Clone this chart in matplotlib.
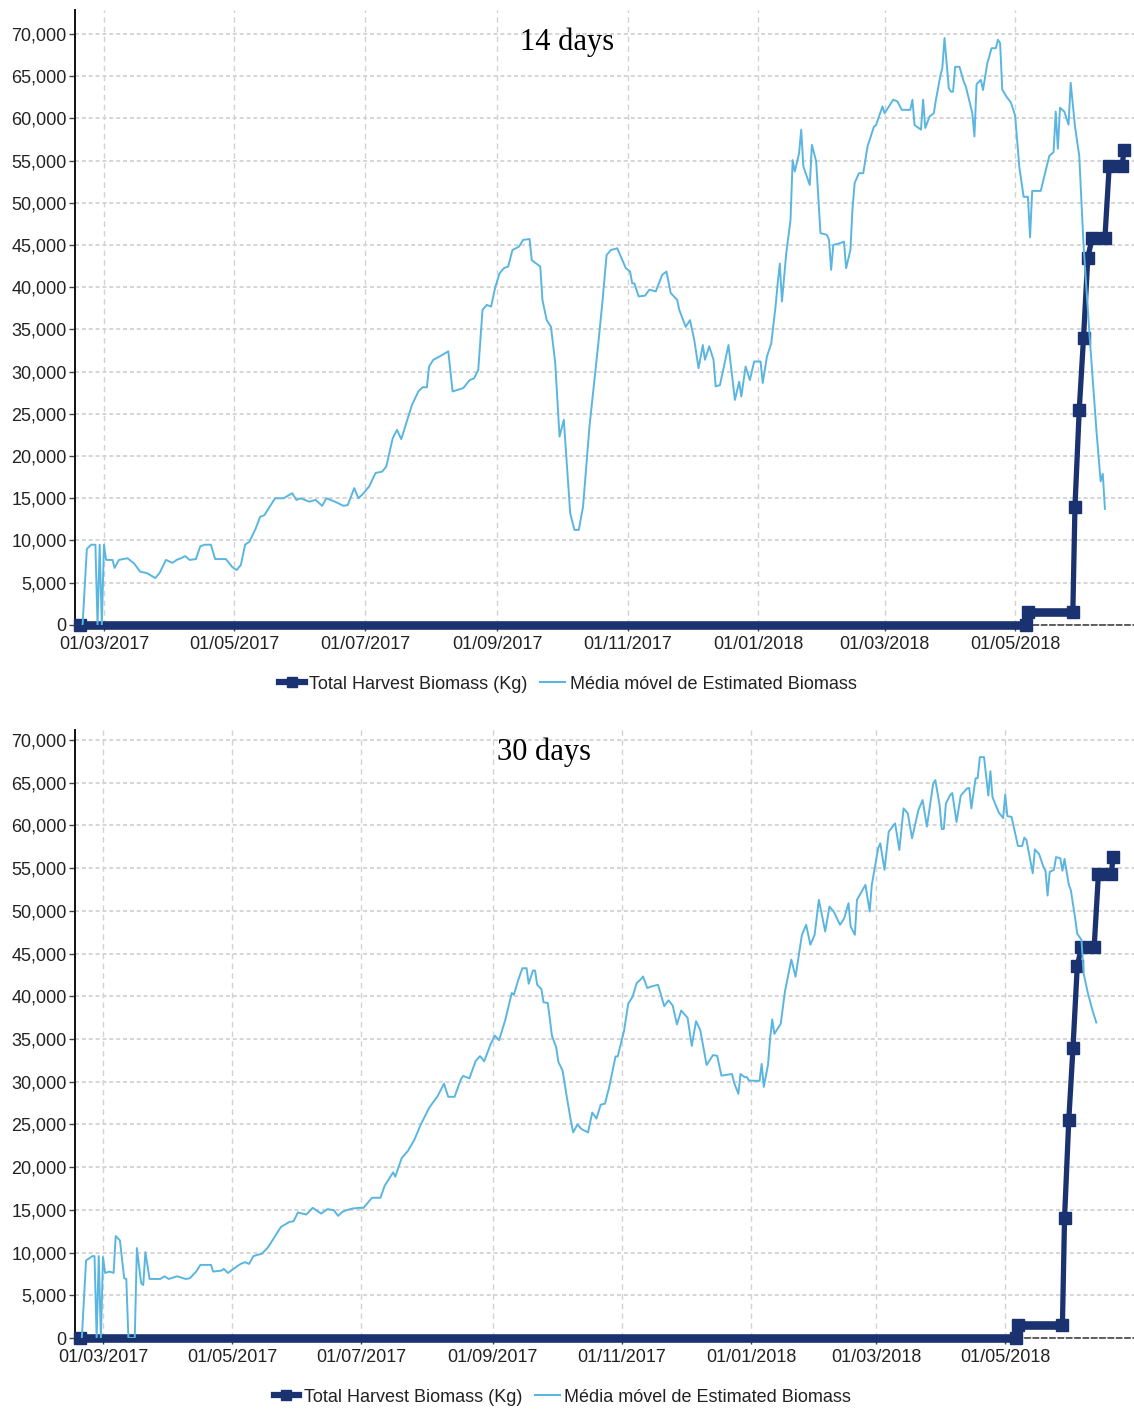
import matplotlib
matplotlib.use("Agg")
import matplotlib.pyplot as plt
import matplotlib.dates as mdates
from matplotlib.lines import Line2D
from matplotlib.ticker import FuncFormatter, MultipleLocator
import pandas as pd

# Fecha base: los días se cuentan desde 01/03/2017
inicio = pd.Timestamp("2017-03-01")

# Média móvel (14 dias)
dias_14 = [-10, -8, -6, -4, -3, -2, -1, 0, 1, 4,
           5, 7, 11, 14, 17, 20, 24, 26, 29, 32,
           34, 36, 38, 40, 43, 45, 47, 50, 52, 57,
           60, 62, 64, 66, 68, 71, 73, 75, 77, 80,
           84, 88, 90, 92, 96, 99, 102, 104, 108, 112,
           114, 117, 119, 121, 124, 127, 130, 132, 135, 137,
           139, 144, 147, 149, 151, 152, 154, 157, 161, 163,
           168, 171, 173, 175, 177, 179, 181, 183, 185, 187,
           189, 191, 194, 196, 199, 200, 204, 205, 207, 209,
           211, 213, 215, 218, 220, 222, 224, 227, 230, 231,
           233, 235, 237, 240, 244, 246, 247, 248, 250, 253,
           255, 258, 261, 263, 265, 268, 269, 272, 274, 276,
           278, 280, 281, 283, 285, 286, 288, 290, 292, 295,
           297, 298, 300, 302, 304, 307, 308, 310, 312, 314,
           315, 316, 317, 319, 321, 322, 323, 325, 326, 327,
           330, 331, 333, 335, 338, 339, 340, 341, 344, 346,
           347, 349, 350, 351, 353, 355, 357, 360, 361, 364,
           365, 368, 369, 371, 373, 377, 378, 379, 382, 383,
           384, 386, 388, 389, 391, 392, 393, 395, 396, 397,
           398, 400, 402, 403, 406, 407, 408, 410, 411, 413,
           415, 417, 418, 419, 420, 422, 424, 426, 428, 430,
           432, 433, 434, 438, 442, 444, 445, 446, 447, 449,
           451, 452, 454, 456, 458, 461, 464, 466, 467, 468]
media_14 = [0, 9000, 9500, 9500, 0, 9500, 0, 9500, 7700, 7700,
            6750, 7700, 7900, 7300, 6300, 6150, 5550, 6150, 7700, 7350,
            7700, 7900, 8150, 7700, 7800, 9300, 9500, 9500, 7800, 7800,
            6850, 6500, 7100, 9500, 9850, 11450, 12800, 13000, 13800, 15000,
            15000, 15600, 14800, 15000, 14600, 14800, 14100, 15000, 14600, 14100,
            14200, 16200, 15000, 15500, 16400, 18000, 18150, 18750, 22100, 23100,
            22000, 26050, 27650, 28150, 28150, 30600, 31400, 31800, 32400, 27650,
            28050, 29000, 29200, 30200, 37300, 37900, 37700, 40050, 41650, 42250,
            42450, 44400, 44800, 45600, 45700, 43200, 42450, 38500, 36100, 35300,
            31000, 22300, 24300, 13200, 11250, 11250, 14000, 23500, 30600, 33000,
            38100, 43800, 44400, 44600, 42250, 41850, 40450, 40450, 38900, 39000,
            39700, 39500, 41450, 41850, 39300, 38500, 37300, 35300, 36100, 33750,
            30400, 33150, 31400, 33000, 31400, 28250, 28400, 30800, 33150, 26650,
            28800, 27050, 30600, 29000, 31200, 31200, 28650, 31800, 33350, 37700,
            40450, 42800, 38300, 44000, 47950, 55050, 53700, 55850, 58650, 54300,
            52100, 56850, 54900, 46400, 46200, 45600, 42050, 45000, 45200, 45400,
            42250, 44400, 49350, 52350, 53500, 53500, 56650, 59000, 59200, 61400,
            60600, 61800, 62200, 62000, 61000, 61000, 62200, 59200, 58650, 62200,
            58850, 60200, 60600, 62200, 64950, 66000, 69500, 63550, 63150, 63150,
            66100, 66100, 64350, 63750, 60600, 57850, 64050, 64550, 63350, 66500,
            68300, 68300, 69300, 68900, 63400, 62550, 61900, 60350, 54200, 50700,
            50700, 45900, 51400, 51400, 55550, 56000, 60800, 56400, 61250, 60800,
            59250, 64200, 59050, 55550, 45000, 33650, 23150, 17000, 17900, 13750]

# Média móvel (30 dias)
dias_30 = [-10, -8, -5, -4, -3, -2, -1, 0, 1, 3,
           5, 6, 8, 10, 11, 12, 15, 16, 18, 19,
           20, 22, 27, 29, 31, 35, 39, 41, 44, 46,
           51, 52, 56, 57, 59, 62, 65, 67, 69, 71,
           73, 75, 78, 81, 84, 88, 90, 92, 96, 99,
           103, 106, 109, 111, 113, 115, 118, 121, 123, 127,
           131, 133, 137, 138, 141, 144, 147, 150, 154, 158,
           161, 163, 166, 169, 170, 173, 176, 178, 180, 183,
           185, 187, 190, 193, 194, 196, 198, 200, 201, 203,
           204, 205, 207, 208, 210, 212, 214, 215, 217, 219,
           221, 222, 224, 226, 229, 231, 233, 235, 237, 239,
           242, 243, 246, 248, 250, 252, 254, 255, 257, 259,
           262, 263, 265, 267, 269, 271, 273, 276, 278, 280,
           282, 285, 288, 290, 292, 297, 298, 300, 301, 303,
           304, 305, 310, 311, 312, 314, 315, 316, 317, 320,
           322, 325, 327, 330, 332, 334, 336, 338, 341, 343,
           345, 348, 350, 352, 353, 355, 356, 360, 362, 363,
           366, 367, 369, 371, 374, 376, 378, 380, 382, 385,
           387, 389, 392, 393, 395, 396, 397, 398, 400, 401,
           403, 405, 408, 409, 410, 412, 413, 414, 416, 418,
           419, 420, 423, 425, 426, 427, 429, 432, 434, 435,
           436, 439, 440, 442, 444, 445, 446, 447, 449, 450,
           452, 453, 454, 456, 457, 459, 460, 462, 463, 465,
           467, 469]
media_30 = [0, 9075, 9590, 9590, 0, 9590, 0, 9470, 7620, 7780,
            7620, 11940, 11430, 7000, 6915, 0, 0, 10530, 6440, 6200,
            10050, 6915, 6915, 7230, 6915, 7230, 6915, 7000, 7780, 8560,
            8560, 7780, 7900, 8100, 7620, 8170, 8680, 8880, 8680, 9590,
            9740, 9860, 10650, 11820, 13000, 13590, 13670, 14700, 14460, 15240,
            14570, 15090, 14970, 14300, 14770, 14970, 15170, 15240, 15240, 16420,
            16420, 17830, 19400, 18890, 21050, 21920, 23200, 24980, 26950, 28320,
            29780, 28240, 28240, 30290, 30680, 30400, 32450, 33000, 32400, 34390,
            35400, 34860, 37290, 40390, 40190, 41860, 43290, 43290, 41470, 43020,
            43020, 41350, 40850, 39300, 39230, 35360, 34010, 32340, 31300, 28200,
            25300, 24070, 25000, 24450, 24070, 26390, 25690, 27320, 27430, 29370,
            32960, 32960, 35940, 39150, 39920, 41550, 42010, 42320, 40970, 41160,
            41350, 40580, 38840, 39540, 38920, 36710, 38340, 37490, 34200, 37100,
            36060, 31960, 33120, 33040, 30720, 30910, 29870, 28590, 30910, 30530,
            30550, 30140, 30100, 32100, 29400, 32000, 35100, 37300, 35600, 36800,
            40580, 44300, 42300, 47200, 48370, 46040, 47200, 51290, 47590, 50510,
            49930, 48370, 49150, 50900, 48180, 47200, 51290, 53050, 49930, 53050,
            57330, 57910, 54800, 59280, 60250, 57130, 62000, 61420, 58500, 61810,
            62980, 59860, 64920, 65310, 62390, 59590, 59590, 62590, 63560, 63800,
            60400, 63500, 64340, 64400, 62000, 65510, 65550, 68000, 68000, 63500,
            66350, 63300, 61500, 60870, 63600, 61100, 61000, 57600, 57600, 58580,
            58300, 54400, 57200, 56650, 55190, 54700, 51800, 54570, 54800, 56300,
            56160, 54700, 56090, 53090, 52400, 49160, 47320, 46620, 42700, 40390,
            38540, 36930]

# Total Harvest Biomass (Kg)
dias_colheita = [-11, 431, 432, 453, 454, 456, 458, 460, 462, 468, 470, 476, 477]
colheita = [0, 0, 1500, 1500, 14000, 25500, 34000, 43500, 45800, 45800, 54300, 54300, 56300]

titulos = ["14 days", "30 days"]
legenda = ["Total Harvest Biomass (Kg)", "Média móvel de Estimated Biomass"]

AZUL_ESCURO = "#1b3270"
AZUL_CLARO = "#5ab6e0"
GRADE = "#d2d2d2"
TEXTO = "#222222"
FONTE = ["Liberation Sans", "DejaVu Sans"]


def fechas(dias):
    return inicio + pd.to_timedelta(dias, unit="D")


fig = plt.figure(figsize=(11.34, 14.11), dpi=100)

# posiciones de cada panel (en fracción de figura) y límites
paneles = [
    dict(rect=[0.0661, 0.5571, 0.9339, 0.4359], ytop=72840, xlim=(-13.56, 481.6),
         dias=dias_14, vals=media_14, titulo=(0.500, 0.970), leg=(0.501, 0.5152)),
    dict(rect=[0.0661, 0.0517, 0.9339, 0.4309], ytop=71170, xlim=(-13.24, 486.8),
         dias=dias_30, vals=media_30, titulo=(0.480, 0.467), leg=(0.496, 0.0099)),
]

for p, titulo in zip(paneles, titulos):
    ax = fig.add_axes(p["rect"])

    # Grade: horizontais pontilhadas, verticais tracejadas
    ax.grid(axis="y", color=GRADE, linestyle=(0, (2.2, 1.6)), linewidth=1.3)
    ax.grid(axis="x", color=GRADE, linestyle=(0, (4, 3)), linewidth=1.0)
    ax.set_axisbelow(True)

    # Colheita: linha grossa com marcadores quadrados
    fc = fechas(dias_colheita)
    ax.plot(fc, colheita, color=AZUL_ESCURO, lw=3.8, marker="s", ms=8,
            solid_joinstyle="miter", zorder=3, clip_on=False)
    # trechos planos aparecem como faixa mais grossa
    for i in range(len(colheita) - 1):
        if colheita[i] == colheita[i + 1]:
            ax.plot(fc[i:i + 2], colheita[i:i + 2], color=AZUL_ESCURO, lw=6.2,
                    solid_capstyle="butt", zorder=3, clip_on=False)

    # Média móvel
    ax.plot(fechas(p["dias"]), p["vals"], color=AZUL_CLARO, lw=1.4, zorder=4)

    ax.set_xlim(inicio + pd.Timedelta(days=p["xlim"][0]),
                inicio + pd.Timedelta(days=p["xlim"][1]))
    ax.set_ylim(0, p["ytop"])

    ax.yaxis.set_major_locator(MultipleLocator(5000))
    ax.yaxis.set_major_formatter(FuncFormatter(lambda v, pos: f"{v:,.0f}"))
    ax.xaxis.set_major_locator(mdates.MonthLocator(bymonth=[1, 3, 5, 7, 9, 11]))
    ax.xaxis.set_major_formatter(mdates.DateFormatter("%d/%m/%Y"))

    for s in ["top", "right"]:
        ax.spines[s].set_visible(False)
    ax.spines["left"].set_color("#111111")
    ax.spines["left"].set_linewidth(1.4)
    ax.spines["bottom"].set_color("#444444")
    ax.spines["bottom"].set_linestyle((0, (3, 2)))
    ax.spines["bottom"].set_linewidth(1.2)

    ax.tick_params(axis="both", length=4, width=1, color="#444444",
                   labelcolor=TEXTO, labelsize=13, pad=2)
    ax.tick_params(axis="x", pad=4)
    for lab in ax.get_xticklabels() + ax.get_yticklabels():
        lab.set_family(FONTE)

    fig.text(p["titulo"][0], p["titulo"][1], titulo, ha="center", va="center",
             fontsize=22, family=["Liberation Serif", "DejaVu Serif"], color="#000000")

    handles = [
        Line2D([], [], color=AZUL_ESCURO, lw=4.5, marker="s", ms=7),
        Line2D([], [], color=AZUL_CLARO, lw=1.5),
    ]
    fig.legend(handles, legenda, loc="center", bbox_to_anchor=p["leg"], ncol=2,
               frameon=False, handlelength=1.4, handletextpad=0.25, columnspacing=0.7,
               prop={"family": FONTE, "size": 13}, labelcolor=TEXTO)

fig.savefig("out.png", dpi=100)
